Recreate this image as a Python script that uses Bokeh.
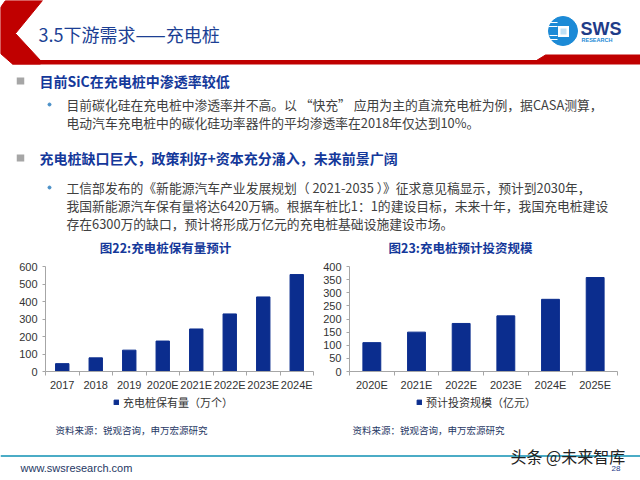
from bokeh.plotting import figure
from bokeh.models import Range1d, FixedTicker, Legend, LegendItem
from bokeh.layouts import column, row
from bokeh.core.properties import value
from bokeh.embed import file_html
from bokeh.resources import INLINE

CJK = "Noto Sans CJK SC"
LAT = "Liberation Sans"

# ---------------- data ----------------
cats1 = ["2017", "2018", "2019", "2020E", "2021E", "2022E", "2023E", "2024E"]
vals1 = [45, 78, 122, 174, 243, 329, 426, 554]
cats2 = ["2020E", "2021E", "2022E", "2023E", "2024E", "2025E"]
vals2 = [110, 150, 183, 212, 275, 358]
yticks1 = [0, 100, 200, 300, 400, 500, 600]
yticks2 = [0, 50, 100, 150, 200, 250, 300, 350, 400]

slide_title = "3.5下游需求——充电桩"
headings = ["目前SiC在充电桩中渗透率较低", "充电桩缺口巨大，政策利好+资本充分涌入，未来前景广阔"]
body1 = ["目前碳化硅在充电桩中渗透率并不高。以 “快充” 应用为主的直流充电桩为例，据CASA测算，",
         "电动汽车充电桩中的碳化硅功率器件的平均渗透率在2018年仅达到10%。"]
body2 = ["工信部发布的《新能源汽车产业发展规划（ 2021-2035 ）》征求意见稿显示，预计到2030年，",
         "我国新能源汽车保有量将达6420万辆。根据车桩比1：1的建设目标，未来十年，我国充电桩建设",
         "存在6300万的缺口，预计将形成万亿元的充电桩基础设施建设市场。"]
chart_titles = ["图22:充电桩保有量预计", "图23:充电桩预计投资规模"]
legend_labels = ["充电桩保有量（万个）", "预计投资规模（亿元）"]
source_text = "资料来源：锐观咨询，申万宏源研究"
url_text = "www.swsresearch.com"
watermark = "头条 @未来智库"
page_no = "28"

RED = "#C00000"
NAVY = "#1C3F94"
HEAD = "#14389A"
BODY = "#404040"
BAR = "#0B2D8E"
AX = "#A6A6A6"


def canvas(h, y0):
    p = figure(width=640, height=h, x_range=Range1d(0, 640), y_range=Range1d(y0 + h, y0),
               output_backend="svg", toolbar_location=None,
               x_axis_location=None, y_axis_location=None, min_border=0)
    p.xgrid.visible = False
    p.ygrid.visible = False
    p.outline_line_color = None
    return p


# ---------------- top part ----------------
top = canvas(258, 0)
top.patch([5, 42, 15, 40, 40, 12, 0, 0], [0, 0, 33, 60, 63.5, 63.5, 53, 7], color=RED)
top.patch([12, 640, 640, 12], [60, 60, 63.5, 63.5], color=RED)
top.patch([536, 545, 640, 640], [60, 54.5, 54.5, 60], color=RED)
top.text([38], [33], [slide_title], text_font=value(CJK), text_font_size="18px",
         text_color=NAVY, text_baseline="middle")
# logo
top.scatter([562.5], [30.5], size=29, color="#1C8AD6")
top.segment([548, 548, 549, 549], [22, 26, 35, 39], [557, 557, 557, 557], [22, 26, 35, 39],
            line_color="white", line_width=1.2)
top.rect([563], [31], 11, 11, fill_color="white", line_color=None)
top.rect([563], [31], 6, 6, fill_color="#BFE0F5", line_color=None)
top.text([580], [28.5], ["SWS"], text_font=value(LAT), text_font_size="18px",
         text_font_style="bold", text_color="#1F3C88", text_baseline="middle")
top.text([581], [39], ["RESEARCH"], text_font=value(LAT), text_font_size="5.5px",
         text_font_style="bold", text_color="#1C8AD6", text_baseline="middle")

# bullets
top.rect([20, 20], [80.5, 157.5], 7.5, 7, fill_color="#A6A6A6", line_color=None)
top.text([39, 39], [80.5, 157.5], headings, text_font=value(CJK), text_font_size="14px",
         text_font_style="bold", text_color=HEAD, text_baseline="middle")
top.scatter([49, 49], [104, 187], size=3, color="#4A90C8")
top.text([66] * 2, [104, 122], body1, text_font=value(CJK), text_font_size="12.8px",
         text_color=BODY, text_baseline="middle")
top.text([66] * 3, [187, 205, 223], body2, text_font=value(CJK), text_font_size="12.8px",
         text_color=BODY, text_baseline="middle")
top.text([165, 460], [247, 247], chart_titles, text_font=value(CJK), text_font_size="12.5px",
         text_font_style="bold", text_color=HEAD, text_baseline="middle", text_align="center")


# ---------------- charts ----------------
def chart(cats, vals, ymax, yticks, left, right):
    n = len(cats)
    p = figure(width=320, height=136, x_range=Range1d(-0.5, n - 0.5), y_range=Range1d(0, ymax),
               output_backend="svg", toolbar_location=None,
               min_border_left=left, min_border_right=right, min_border_top=8, min_border_bottom=23)
    p.vbar(x=list(range(n)), top=vals, width=0.4, color=BAR)
    p.grid.visible = False
    p.outline_line_color = None
    xa = p.xaxis[0]
    xa.ticker = FixedTicker(ticks=list(range(n)), minor_ticks=[i - 0.5 for i in range(n + 1)])
    xa.major_label_overrides = {i: c for i, c in enumerate(cats)}
    xa.major_tick_line_color = None
    xa.major_tick_out = 4
    xa.minor_tick_line_color = AX
    xa.minor_tick_out = 4
    xa.minor_tick_in = 0
    xa.major_label_standoff = 3
    ya = p.yaxis[0]
    ya.ticker = FixedTicker(ticks=yticks)
    ya.major_tick_line_color = AX
    ya.major_tick_out = 3
    ya.major_tick_in = 0
    ya.minor_tick_line_color = None
    ya.major_label_standoff = 5
    for a in (xa, ya):
        a.axis_line_color = AX
        a.major_label_text_font = LAT
        a.major_label_text_font_size = "11px"
        a.major_label_text_color = "#333333"
    return p


c1 = chart(cats1, vals1, 600, yticks1, 45, 7)
c2 = chart(cats2, vals2, 400, yticks2, 28, 23)

# ---------------- footer (legends, sources, page footer) ----------------
bot = canvas(86, 394)
for lbl, lx in zip(legend_labels, [113, 416]):
    # zero-height key renderer hidden under the legend swatch
    key = bot.vbar(x=[lx + 3], top=[403], bottom=[403], width=1, color=BAR)
    lg = Legend(items=[LegendItem(label=lbl, renderers=[key])], location=(lx, 70),
                orientation="horizontal", glyph_width=6, glyph_height=6,
                label_text_font=CJK, label_text_font_size="11px", label_text_color="#333333",
                label_height=14, label_standoff=4, padding=0, margin=0,
                border_line_color=None, background_fill_alpha=0)
    bot.add_layout(lg, "center")
bot.text([55, 352], [429, 429], [source_text, source_text], text_font=value(CJK),
         text_font_size="9.5px", text_color="#1F3864", text_baseline="middle")
bot.segment([0], [455.5], [640], [455.5], line_color="#4BACC6", line_width=2)
bot.text([20], [467], [url_text], text_font=value(LAT), text_font_size="11px",
         text_color="#1F3864", text_baseline="middle")
bot.text([510], [455], [watermark], text_font=value(CJK), text_font_size="16px",
         text_color="#222222", text_baseline="middle")
bot.text([611], [468], [page_no], text_font=value(LAT), text_font_size="8px",
         text_color="#1F3C88", text_baseline="middle")

layout = column(top, row(c1, c2), bot)
open("out.html", "w").write(file_html(layout, INLINE))
